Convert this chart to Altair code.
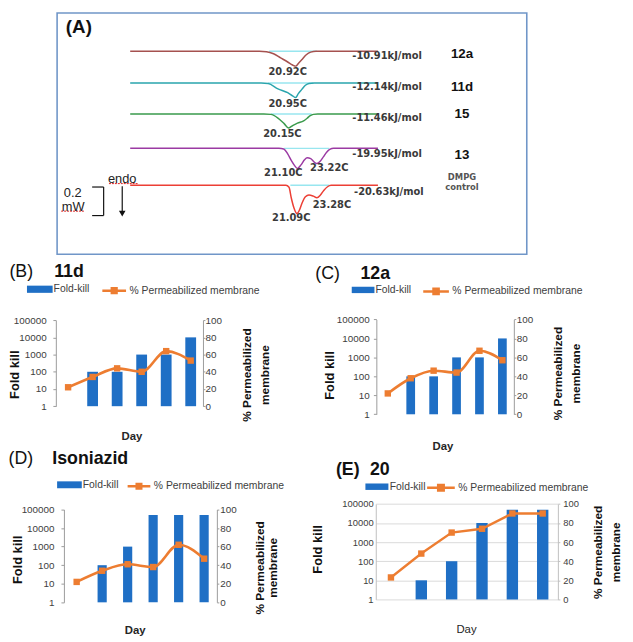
import altair as alt
import pandas as pd

W, H = 625, 634


def X(px):
    return round((px - 2.5) * 0.985, 2)


def Y(py):
    return round(py * 0.987 + 0.5, 2)


SANS = "Liberation Sans"
DEJAVU = "DejaVu Sans"
BLUE = "#1f6fc5"
ORANGE = "#ED7D31"
TXT = "#404040"

# ---------------- Panel A : DSC thermograms ----------------
dsc_names = ["12a", "11d", "15", "13", "DMPG control"]
dsc_colors = ["#a5514f", "#2aa5ad", "#3a9a4c", "#9b3aa3", "#ec3f35"]
dsc_offset = [1.210, 0.988, 0.771, 0.530, 0.271]
dsc_temp = [
    [2, 9, 16.6, 17.4, 18.2, 19.0, 19.8, 20.35, 20.7, 21.05, 21.45, 21.9, 22.4, 23.0, 30],
    [2, 9, 16.8, 17.6, 18.7, 19.8, 20.35, 20.7, 21.0, 21.4, 21.8, 22.2, 22.8, 30],
    [2, 9, 17.1, 17.9, 18.7, 19.4, 19.9, 20.4, 20.9, 21.6, 22.0, 22.35, 22.7, 23.2, 30],
    [2, 9, 18.8, 19.35, 19.8, 20.2, 20.6, 20.9, 21.3, 21.7, 22.0, 22.4, 22.8, 23.1, 23.5, 23.85, 24.2, 24.55, 25.0, 30],
    [2, 9, 19.6, 19.95, 20.2, 20.5, 20.85, 21.15, 21.45, 21.8, 22.2, 22.7, 23.1, 23.5, 23.9, 24.3, 24.7, 30],
]
dsc_depth = [
    [0, 0, 0, -0.003, -0.017, -0.046, -0.075, -0.096, -0.104, -0.082, -0.055, -0.024, -0.006, 0, 0],
    [0, 0, 0, -0.004, -0.041, -0.068, -0.090, -0.102, -0.075, -0.045, -0.016, -0.003, 0, 0],
    [0, 0, 0, -0.003, -0.029, -0.068, -0.098, -0.080, -0.064, -0.048, -0.030, -0.012, -0.003, 0, 0],
    [0, 0, 0, -0.004, -0.039, -0.085, -0.123, -0.141, -0.116, -0.080, -0.066, -0.072, -0.096, -0.107, -0.089, -0.058, -0.027, -0.007, 0, 0],
    [0, 0, 0, -0.014, -0.087, -0.157, -0.198, -0.170, -0.120, -0.080, -0.068, -0.076, -0.087, -0.068, -0.034, -0.010, 0, 0],
]
cyan_from = [17.7, 17.6, 17.9, 19.4, 20.1]
cyan_to = [23.1, 22.7, 22.5, 24.5, 24.5]

peak_text = ["20.92C", "20.95C", "20.15C", "21.10C", "23.22C", "21.09C", "23.28C"]
peak_t = [19.8, 19.8, 19.2, 19.3, 24.5, 20.2, 24.8]
peak_y = [1.065, 0.838, 0.633, 0.357, 0.389, 0.043, 0.132]

energy_text = ["-10.91kJ/mol", "-12.14kJ/mol", "-11.46kJ/mol", "-19.95kJ/mol", "-20.63kJ/mol"]
energy_t = [27.1, 27.1, 27.1, 27.1, 27.3]
energy_y = [1.174, 0.958, 0.742, 0.491, 0.225]

cmp_text = ["12a", "11d", "15", "13"]
cmp_t = [39.5, 39.5, 39.5, 39.5]
cmp_y = [1.19, 0.962, 0.773, 0.485]
dmpg_text = ["DMPG", "control"]
dmpg_t = [39.5, 39.5]
dmpg_y = [0.327, 0.262]

temp_ticks = [i * 2.5 for i in range(-1, 19)]

# scale bar (0.2 mW) and endo arrow, in temperature / mW units
bar_x = [-1.0, -2.3, -2.3, 1.1]
bar_x2 = [-1.0, -1.0, -1.0, 1.1]
bar_y = [0.059, 0.259, 0.059, 0.264]
bar_y2 = [0.259, 0.259, 0.059, 0.075]
squig_x = [-5.8, -0.4]
squig_x2 = [-3.2, 2.9]
squig_y = [0.090, 0.283]
note_text = ["0.2", "mW", "endo"]
note_t = [-4.5, -4.45, 1.1]
note_y = [0.218, 0.121, 0.316]
label_a_t = [-3.8]
label_a_y = [1.379]

# ---------------- Panels B-E : fold kill / permeabilisation ----------------
day_labels = ["0", "1", "2", "3", "4", "5"]
decades = [1, 10, 100, 1000, 10000, 100000]
fold_11d = [None, 100, 100, 1000, 1000, 10000]
perm_11d = [22, 34, 44, 40, 64, 53]
fold_12a = [None, 100, 100, 1000, 1000, 10000]
perm_12a = [22, 38, 46, 44, 67, 57]
fold_inh = [None, 100, 1000, 50000, 50000, 50000]
perm_inh = [22, 34, 41, 38, 62, 47]
fold_20 = [None, 10, 100, 10000, 50000, 50000]
perm_20 = [23, 48, 70, 74, 90, 90]

one = pd.DataFrame({"k": [0]})

# ---------- panel A ----------
rows = []
for name, off, ts, ds in zip(dsc_names, dsc_offset, dsc_temp, dsc_depth):
    for i, (t, d) in enumerate(zip(ts, ds)):
        rows.append({"cmp": name, "T": t, "mW": off + d, "o": i})
curves = pd.DataFrame(rows)
cyan = pd.DataFrame({"t0": cyan_from, "t1": cyan_to, "y": dsc_offset})
peaks = pd.DataFrame({"txt": peak_text, "T": peak_t, "y": peak_y})
energies = pd.DataFrame({"txt": energy_text, "T": energy_t, "y": energy_y})
cmps = pd.DataFrame({"txt": cmp_text, "T": cmp_t, "y": cmp_y})
dmpg = pd.DataFrame({"txt": dmpg_text, "T": dmpg_t, "y": dmpg_y})
segs = pd.DataFrame({"x": bar_x, "x2": bar_x2, "y": bar_y, "y2": bar_y2})
squig = pd.DataFrame({"x": squig_x, "x2": squig_x2, "y": squig_y})
notes = pd.DataFrame({"txt": note_text, "T": note_t, "y": note_y})
label_a = pd.DataFrame({"txt": ["(A)"], "T": label_a_t, "y": label_a_y})
arrow = pd.DataFrame({"T": [1.1], "y": [0.072]})

xA = alt.Scale(domain=[-4.6, 45.5], range=[X(68.1), X(524)])
yA = alt.Scale(domain=[0, 1.478], range=[Y(217), Y(0.5)])
axA = alt.Axis(
    orient="bottom", offset=Y(217) - H, values=temp_ticks,
    labelExpr="datum.value % 10 === 0 ? format(datum.value, '.2f') : ''",
    tickSize=3, tickColor="#777777", domainColor="#777777", labelOverlap=False,
    labelFont=DEJAVU, labelFontWeight="bold", labelFontSize=10.5, labelColor="#555555",
    labelPadding=-1, grid=False,
    title="Temp  [C]", titleFont=DEJAVU, titleFontSize=12, titleFontWeight="bold",
    titleColor="#555555", titleX=X(254), titleY=Y(233) - Y(217),
    titleAlign="center", titleBaseline="middle",
)


def ax(f):
    return alt.X(f, scale=xA, axis=None)


def ay(f):
    return alt.Y(f, scale=yA, axis=None)


frame = alt.Chart(one).mark_rect(fill="transparent", stroke="#7096c8", strokeWidth=1.6).encode(
    x=alt.value(X(53)), x2=alt.value(X(536)), y=alt.value(Y(0.5)), y2=alt.value(Y(248)))
cyan_l = alt.Chart(cyan).mark_rule(color="#98e6ef", strokeWidth=1.4).encode(
    x=ax("t0:Q"), x2="t1:Q", y=ay("y:Q"))
curve_l = alt.Chart(curves).mark_line(strokeWidth=1.5, interpolate="monotone").encode(
    x=alt.X("T:Q", scale=xA, axis=axA),
    y=ay("mW:Q"),
    color=alt.Color("cmp:N", scale=alt.Scale(domain=dsc_names, range=dsc_colors), legend=None),
    order="o:Q")
peak_l = alt.Chart(peaks).mark_text(font=DEJAVU, fontWeight="bold", fontSize=10, color="#3a3a3a").encode(
    x=ax("T:Q"), y=ay("y:Q"), text="txt:N")
energy_l = alt.Chart(energies).mark_text(font=DEJAVU, fontWeight="bold", fontSize=10, color="#3a3a3a", align="left").encode(
    x=ax("T:Q"), y=ay("y:Q"), text="txt:N")
cmp_l = alt.Chart(cmps).mark_text(font=SANS, fontWeight="bold", fontSize=13.5, color="#111111").encode(
    x=ax("T:Q"), y=ay("y:Q"), text="txt:N")
dmpg_l = alt.Chart(dmpg).mark_text(font=DEJAVU, fontWeight="bold", fontSize=8.5, color="#555555").encode(
    x=ax("T:Q"), y=ay("y:Q"), text="txt:N")
seg_l = alt.Chart(segs).mark_rule(color="#111111", strokeWidth=1.2).encode(
    x=ax("x:Q"), x2="x2:Q", y=ay("y:Q"), y2="y2:Q")
squig_l = alt.Chart(squig).mark_rule(color="#e02020", strokeWidth=1, strokeDash=[2, 1]).encode(
    x=ax("x:Q"), x2="x2:Q", y=ay("y:Q"))
arrow_l = alt.Chart(arrow).mark_point(shape="triangle-down", filled=True, size=45, color="#111111", opacity=1).encode(
    x=ax("T:Q"), y=ay("y:Q"))
note_l = alt.Chart(notes).mark_text(font=SANS, fontSize=13, color="#222222").encode(
    x=ax("T:Q"), y=ay("y:Q"), text="txt:N")
label_a_l = alt.Chart(label_a).mark_text(font=SANS, fontSize=19, fontWeight="bold", color="#111111").encode(
    x=ax("T:Q"), y=ay("y:Q"), text="txt:N")

panelA = alt.layer(frame, cyan_l, curve_l, peak_l, energy_l, cmp_l, dmpg_l, seg_l, squig_l,
                   arrow_l, note_l, label_a_l)

RECT_PATH = "M-1,-0.28H1V0.28H-1Z"
LINE_PATH = "M-1,0H1M-0.2,-0.2H0.2V0.2H-0.2Z"


def txt_layer(text, px, py, size, weight="bold", angle=0, align="center", color="#111111"):
    return alt.Chart(one).mark_text(
        text=text, font=SANS, fontSize=size, fontWeight=weight, color=color,
        align=align, baseline="middle", angle=angle).encode(
        x=alt.value(X(px)), y=alt.value(Y(py)))


def kill_panel(fold, perm, g):
    xl, xr = X(g["xl"]), X(g["xr"])
    yb, yt = Y(g["yb"]), Y(g["yt"])
    pad = 1 - g["bar"]
    df = pd.DataFrame({"day": day_labels, "fold": fold, "perm": perm})
    df["s1"] = "Fold-kill"
    df["s2"] = "% Permeabilized membrane"
    lab = dict(labelFont=SANS, labelFontSize=g["fs"], labelColor=TXT, labelOverlap=False)
    xscale = alt.Scale(domain=day_labels, range=[xl, xr], paddingInner=pad, paddingOuter=pad / 2)
    xaxis = alt.Axis(
        orient="bottom", offset=yb - H, tickBand="extent", tickSize=4, labelPadding=g["xpad"],
        labelAngle=0, domainColor=g["axc"], tickColor=g["axc"], grid=False, title=None, **lab)
    laxis = alt.Axis(
        orient="left", offset=-xl, values=decades, format="d", tickSize=g["lt"],
        labelPadding=g["lp"], domainColor=g["axc"], tickColor=g["axc"],
        grid=g["grid"], gridColor="#d9d9d9", title=None, **lab)
    raxis = alt.Axis(
        orient="right", offset=xr - W, values=[0, 20, 40, 60, 80, 100], tickSize=g["rt"],
        labelPadding=g["rp"], domainColor=g["axc"], tickColor=g["axc"], grid=False,
        title=None, **lab)
    r1 = g["w1"] / 2
    r2 = g["w2"] / 2
    ly = g["ly"]
    leg1 = alt.Legend(
        orient="none", legendX=X(g["l1"]), legendY=Y(ly) - r1 - 2, title=None,
        symbolType=RECT_PATH, symbolSize=(2 * r1) ** 2, symbolStrokeWidth=0,
        labelFont=SANS, labelFontSize=10.5, labelColor=TXT, labelOffset=1, padding=0)
    leg2 = alt.Legend(
        orient="none", legendX=X(g["l2"]), legendY=Y(ly) - r2 - 2, title=None,
        symbolType=LINE_PATH, symbolSize=(2 * r2) ** 2, symbolStrokeWidth=2.5,
        symbolFillColor=ORANGE, labelFont=SANS, labelFontSize=10.5, labelColor=TXT,
        labelOffset=2, padding=0, labelLimit=300)
    pscale = alt.Scale(domain=[0, 100], range=[yb, yt])
    bars = alt.Chart(df).transform_filter("isValid(datum.fold)").mark_bar().encode(
        x=alt.X("day:N", scale=xscale, axis=xaxis),
        y=alt.Y("fold:Q", scale=alt.Scale(type="log", domain=[1, 100000], range=[yb, yt]), axis=laxis),
        y2=alt.Y2Datum(1),
        fill=alt.Fill("s1:N", scale=alt.Scale(domain=["Fold-kill"], range=[BLUE]), legend=leg1))
    line = alt.Chart(df).mark_line(strokeWidth=g["lw"], interpolate=g["interp"]).encode(
        x=alt.X("day:N", scale=xscale, axis=None),
        y=alt.Y("perm:Q", scale=pscale, axis=raxis),
        stroke=alt.Stroke("s2:N", scale=alt.Scale(domain=["% Permeabilized membrane"], range=[ORANGE]), legend=leg2))
    pts = alt.Chart(df).mark_square(size=g["ms"], color=ORANGE, opacity=1).encode(
        x=alt.X("day:N", scale=xscale, axis=None),
        y=alt.Y("perm:Q", scale=pscale, axis=None))
    layers = [bars, line, pts]
    for text, px, py, wt in g["title"]:
        layers.append(txt_layer(text, px, py, 18, wt, align="left"))
    layers.append(txt_layer("Fold kill", g["fk"][0], g["fk"][1], 13, angle=270))
    layers.append(txt_layer("% Permeabilized", g["pt"][0], g["pt"][2], 12, angle=270))
    layers.append(txt_layer("membrane", g["pt"][1], g["pt"][2], 12, angle=270))
    layers.append(txt_layer("Day", g["day"][0], g["day"][1], 11.5, g["dayw"], color="#262626"))
    return alt.layer(*layers).resolve_scale(y="independent")


base = dict(fs=10, xpad=5, axc="#9a9a9a", dayw="bold", lt=3, rt=2, grid=False,
            lw=2.6, interp="monotone", ms=42)

gB = dict(base, xl=51.7, xr=203, yb=404, yt=315.7, bar=0.44, lp=6.7, rp=0,
          day=(130, 436), fk=(10.2, 371.7), pt=(248, 266.7, 372),
          l1=22, l2=98, ly=286, w1=26, w2=24,
          title=[("(B)", 4, 266, "normal"), ("11d", 50, 266, "bold")])
gC = dict(base, xl=381.3, xr=522.7, yb=412.3, yt=315, bar=0.38, lp=4.3, rp=0.5,
          day=(449.7, 445.7), fk=(333.7, 372.5), pt=(568, 586.3, 370.5),
          l1=356, l2=428, ly=286.7, w1=23, w2=26,
          title=[("(C)", 318.5, 268, "normal"), ("12a", 365, 268, "bold")])
gD = dict(base, xl=60, xr=217.3, yb=605.3, yt=510, bar=0.36, lp=7, rp=1, xpad=6.5,
          day=(133.3, 635), fk=(13.3, 561.7), pt=(261.7, 275, 570),
          l1=53, l2=124, ly=486.7, w1=25, w2=23,
          title=[("(D)", 3, 458, "normal"), ("Isoniazid", 48, 458, "bold")])
gE = dict(base, xl=380.7, xr=568, yb=602.3, yt=504.3, bar=0.375, lp=2.7, lt=0, rp=3,
          fs=9.5, axc="#bfbfbf", dayw="normal", grid=True, interp="linear", lw=2.4,
          day=(474, 633.3), fk=(321.3, 551), pt=(609.7, 628, 554),
          l1=369.7, l2=432, ly=488.3, w1=23.3, w2=28,
          title=[("(E)", 339.7, 470, "bold"), ("20", 374.7, 470, "bold")])

pB = kill_panel(fold_11d, perm_11d, gB)
pC = kill_panel(fold_12a, perm_12a, gC)
pD = kill_panel(fold_inh, perm_inh, gD)
pE = kill_panel(fold_20, perm_20, gE)

chart = alt.layer(panelA, pB, pC, pD, pE).resolve_scale(
    x="independent", y="independent", fill="independent", stroke="independent"
).properties(
    width=W, height=H, autosize=alt.AutoSizeParams(type="none"), padding=0
).configure_view(stroke="transparent")

chart.save("out.html", embed_options={"renderer": "svg", "actions": False})
